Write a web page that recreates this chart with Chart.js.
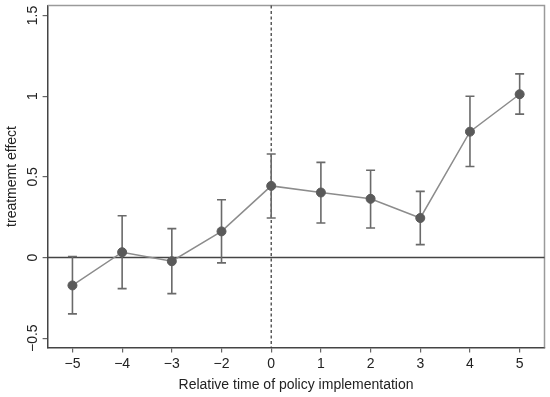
<!DOCTYPE html>
<html>
<head>
<meta charset="utf-8">
<script src="https://cdn.jsdelivr.net/npm/chart.js@4"></script>
<style>
  html, body { margin: 0; padding: 0; background: #fff; }
  #wrap { width: 550px; height: 397px; }
</style>
</head>
<body>
<div id="wrap"><canvas id="chart" width="550" height="397"></canvas></div>
<script>
// relative periods (t = -1 is the omitted reference period)
const periods = ['\u22125', '\u22124', '\u22123', '\u22122', '0', '1', '2', '3', '4', '5'];
const estimates = [-0.173, 0.033, -0.023, 0.162, 0.444, 0.403, 0.364, 0.245, 0.78, 1.012];
const upper = [0.006, 0.259, 0.179, 0.358, 0.642, 0.59, 0.541, 0.41, 1.0, 1.138];
const lower = [-0.349, -0.193, -0.224, -0.033, 0.245, 0.214, 0.183, 0.08, 0.564, 0.889];
const yTicks = [-0.5, 0, 0.5, 1, 1.5];

const FONT = "'Liberation Sans', Arial, sans-serif";

// error bars, zero line, dashed policy line and the light frame
const refLines = {
    id: 'refLines',
    beforeDatasetsDraw(chart) {
        const { ctx, chartArea: a, scales: { x, y } } = chart;
        ctx.save();
        // light frame top/right
        ctx.strokeStyle = '#9a9a9a';
        ctx.lineWidth = 1.5;
        ctx.beginPath();
        ctx.moveTo(a.left, a.top);
        ctx.lineTo(a.right, a.top);
        ctx.lineTo(a.right, a.bottom);
        ctx.stroke();

        // zero line
        const y0 = y.getPixelForValue(0);
        ctx.strokeStyle = '#444';
        ctx.lineWidth = 1.5;
        ctx.beginPath();
        ctx.moveTo(a.left, y0);
        ctx.lineTo(a.right, y0);
        ctx.stroke();

        // dashed line at t = 0
        const x0 = x.getPixelForValue(periods.indexOf('0'));
        ctx.setLineDash([3, 2.5]);
        ctx.lineWidth = 1.2;
        ctx.strokeStyle = '#333';
        ctx.beginPath();
        ctx.moveTo(x0, a.top);
        ctx.lineTo(x0, a.bottom);
        ctx.stroke();
        ctx.setLineDash([]);

        // confidence intervals
        ctx.strokeStyle = '#6a6a6a';
        ctx.lineWidth = 1.6;
        estimates.forEach((v, i) => {
            const px = x.getPixelForValue(i);
            const hi = y.getPixelForValue(upper[i]);
            const lo = y.getPixelForValue(lower[i]);
            ctx.beginPath();
            ctx.moveTo(px, hi);
            ctx.lineTo(px, lo);
            ctx.moveTo(px - 4.5, hi);
            ctx.lineTo(px + 4.5, hi);
            ctx.moveTo(px - 4.5, lo);
            ctx.lineTo(px + 4.5, lo);
            ctx.stroke();
        });
        ctx.restore();
    }
};

new Chart(document.getElementById('chart'), {
    type: 'line',
    data: {
        labels: periods,
        datasets: [{
            data: estimates,
            borderColor: '#8c8c8c',
            borderWidth: 1.5,
            pointRadius: 4.5,
            pointBackgroundColor: '#5a5a5a',
            pointBorderColor: '#5a5a5a',
            pointBorderWidth: 1,
            tension: 0
        }]
    },
    options: {
        responsive: false,
        animation: false,
        layout: { padding: { top: 5, right: 4, bottom: 3, left: 0 } },
        plugins: {
            legend: { display: false },
            tooltip: { enabled: false }
        },
        scales: {
            x: {
                type: 'category',
                offset: true,
                grid: {
                    drawOnChartArea: false,
                    drawTicks: true,
                    tickLength: 5,
                    color: '#666',
                    lineWidth: 1.2
                },
                border: { display: true, color: '#444', width: 1.5 },
                ticks: {
                    color: '#222',
                    padding: 3,
                    maxRotation: 0,
                    font: { family: FONT, size: 14 }
                },
                title: {
                    display: true,
                    text: 'Relative time of policy implementation',
                    color: '#222',
                    padding: { top: 2, bottom: 0 },
                    font: { family: FONT, size: 14 }
                }
            },
            y: {
                min: -0.557,
                max: 1.562,
                afterBuildTicks(scale) {
                    scale.ticks = yTicks.map(v => ({ value: v }));
                },
                afterFit(scale) {
                    scale.paddingTop = 0;
                    scale.paddingBottom = 0;
                },
                grid: {
                    drawOnChartArea: false,
                    drawTicks: true,
                    tickLength: 5,
                    color: '#666',
                    lineWidth: 1.2
                },
                border: { display: true, color: '#444', width: 1.5 },
                ticks: {
                    color: '#222',
                    minRotation: 90,
                    maxRotation: 90,
                    crossAlign: 'center',
                    padding: -4.5,
                    font: { family: FONT, size: 14 },
                    callback: v => String(v).replace('-', '\u2212')
                },
                title: {
                    display: true,
                    text: 'treatmemt effect',
                    color: '#222',
                    padding: { top: 4, bottom: 14 },
                    font: { family: FONT, size: 14 }
                }
            }
        }
    },
    plugins: [refLines]
});
</script>
</body>
</html>
